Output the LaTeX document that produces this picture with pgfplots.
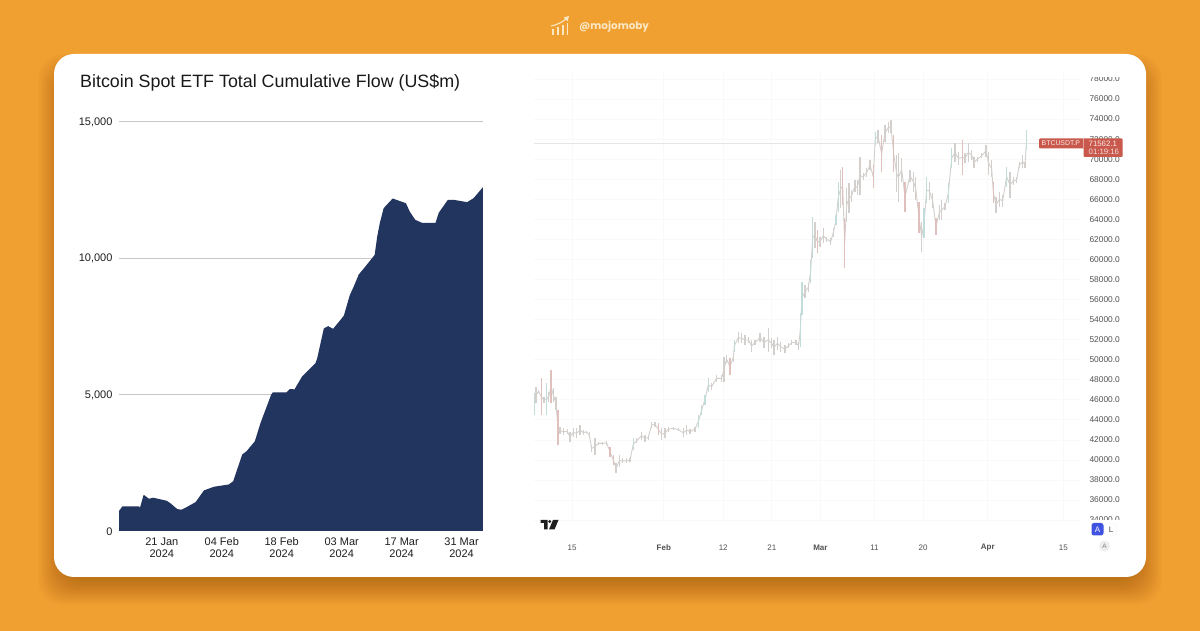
\documentclass[border=0pt]{standalone}
\usepackage{pgfplots}
\usepackage{pgfplotstable}
\usepackage{fontspec}
\pgfplotsset{compat=1.18}
\setmainfont{Liberation Sans}
\newfontfamily\pop{Poppins}
\definecolor{bgor}{HTML}{F0A031}
\definecolor{navy}{HTML}{22355F}
\definecolor{cream}{HTML}{FBE7C4}
\definecolor{tagred}{HTML}{C9594C}
\definecolor{wickg}{HTML}{D3CFCC}
\definecolor{wickr}{HTML}{DFC0BC}
\definecolor{wickt}{HTML}{C2DDD9}
\pgfplotstableread{
x lo hi c
-6.92 44484 46645 2
-6.67 45648 47310 0
-6.18 46645 46978 0
-5.68 44484 48141 1
-5.19 45648 46313 0
-4.70 44484 47643 2
-4.32 45814 46811 0
-3.89 45648 48973 1
-3.46 45814 47144 0
-2.97 44983 46313 0
-2.60 41491 44983 1
-2.23 42589 43254 0
-1.61 42489 43154 0
-0.87 42589 43054 0
-0.38 41824 42821 0
0.24 42323 43154 0
0.86 42156 43154 0
1.48 42489 43486 0
2.09 42489 42988 0
2.71 42655 42921 0
3.20 42156 42821 0
3.63 40826 41491 0
4.25 40494 42156 0
4.87 41491 41824 0
5.67 41491 41824 0
6.41 41491 41890 0
7.03 40328 41325 1
7.65 39496 40494 1
8.14 38665 39663 0
8.76 39330 40494 0
9.37 39663 40161 0
10.11 39663 40161 0
10.73 39829 40161 0
11.35 40993 42156 2
11.96 41657 42156 0
12.89 41990 42821 0
13.51 41824 42489 0
14.12 41990 42489 0
14.74 43154 43819 0
15.36 43320 43819 0
15.97 42489 43653 1
16.59 41990 43154 0
17.21 42156 43154 0
17.83 42821 43320 0
18.75 42988 43320 0
19.68 42921 43154 0
20.60 42256 43154 0
21.22 42489 43486 0
21.84 42589 43054 0
22.76 42821 43320 0
23.38 43154 44484 2
24.00 44484 45481 2
24.61 45481 46479 2
25.23 46811 48141 2
25.85 46978 47643 0
26.77 47809 48474 0
27.70 47809 48474 0
28.13 47809 50302 0
28.62 49637 50469 0
29.24 48474 50136 1
29.86 49804 50635 0
30.06 50801 51965 2
30.80 51632 52796 0
31.41 51632 52630 0
32.03 51466 52464 0
32.65 51632 52298 0
33.26 50801 51965 0
33.88 51466 51965 0
34.81 51799 52630 0
35.55 51134 52298 0
36.35 50801 53129 0
36.97 51134 52131 0
37.40 50469 51965 0
38.02 50967 52298 0
38.63 50801 51799 0
39.43 50635 51466 0
40.05 51134 51632 0
40.67 51466 51965 0
41.47 51466 51965 0
41.96 50967 51799 0
42.27 51300 54625 2
42.58 54459 57784 2
43.14 56121 57451 0
43.75 56786 57618 0
44.19 57618 59945 2
44.56 60111 64268 2
45.00 61109 63769 0
45.43 60610 62938 1
45.92 61276 62273 0
46.54 61608 63104 0
47.16 61774 62273 0
47.90 61441 62106 0
48.39 62273 63104 0
48.88 63437 64434 2
49.32 64767 67759 2
49.75 65099 68923 0
50.12 65431 69255 1
50.49 59114 64101 1
50.86 63769 67094 0
51.29 64600 67593 0
51.78 65764 66928 0
52.40 66761 67925 0
52.83 66429 67925 0
53.33 66429 70253 0
53.94 67925 68590 0
54.56 68258 69089 0
55.18 68923 69920 0
55.79 67094 69421 1
56.16 71417 72746 2
56.66 71583 72913 0
57.34 68756 72414 1
57.95 71749 73411 0
58.57 72580 73744 0
59.06 72580 73910 0
59.56 68756 72414 1
60.11 66761 70419 0
60.42 65764 70585 0
61.05 67759 70087 0
61.67 64767 67759 1
62.59 67759 68923 0
63.21 66762 68757 0
63.64 65931 68258 0
64.26 62606 65764 1
64.75 60777 63770 0
65.18 62107 65100 2
65.68 65598 68258 2
66.17 65931 67760 0
66.79 65100 66596 0
67.40 62440 64102 1
68.02 63936 65432 0
68.45 63936 65931 0
69.07 64933 65598 0
69.69 65598 67593 2
70.30 69090 71085 2
70.92 69755 71583 0
71.54 69422 70752 0
72.28 68425 71916 1
72.77 69588 70586 0
73.39 69755 71583 0
74.01 69921 70918 0
74.44 69090 70253 0
75.05 69755 70253 0
75.86 70087 70586 0
76.66 70253 71417 0
77.15 68425 70752 0
77.71 68258 69921 0
78.02 65598 67760 1
78.51 64601 66263 0
79.13 65266 66762 0
79.74 65266 66430 0
80.48 67261 69256 2
81.10 66097 68757 0
81.72 67427 68258 0
82.34 67593 68258 0
82.83 69090 69755 0
83.45 69090 70420 0
83.88 69090 69755 0
84.19 70918 72913 2
}\btc
\newcommand{\wicks}[2]{\addplot[draw=none,mark=none,forget plot,
  restrict expr to domain={\thisrow{c}}{#1:#1},
  error bars/.cd,y dir=plus,y explicit,error mark=none,
  error bar style={line width=1.3pt,color=#2}]
  table[x=x,y=lo,y error expr=\thisrow{hi}-\thisrow{lo}]{\btc};}
\begin{document}
\begin{tikzpicture}
\useasboundingbox (0,0) rectangle (1200pt,631pt);
\fill[bgor] (0,0) rectangle (1200pt,631pt);
\begin{scope}[x=1pt,y=-1pt,shift={(0pt,631pt)}]
  % soft shadow
  \foreach \i in {0,...,25}{
    \fill[black,opacity=0.0075,rounded corners=24pt]
      ({54-16+\i},{54+\i}) rectangle ({1146+16-\i},{577+28-\i});
  }
  \fill[white,rounded corners=20pt] (54,54) rectangle (1146,577);
  % header icon
  \draw[cream,line width=1.3pt] (553,35)--(553,29) (558,35)--(558,27) (563,35)--(563,25) (567.5,35)--(567.5,23);
  \draw[cream,line width=1.1pt] (551,26) .. controls (557,25) and (563,22) .. (567,18);
  \fill[cream] (569,16)--(563.5,17.5)--(567.5,21.5)--cycle;
  \node[anchor=west,text=cream,font=\pop\bfseries\fontsize{10.4}{13}\selectfont,inner sep=0pt] at (579,26.5) {@mojomoby};
  \node[anchor=west,inner sep=0pt,font=\fontsize{17.85}{21}\selectfont,text=black!90] at (80,82.5) {Bitcoin Spot ETF Total Cumulative Flow (US\$m)};
\end{scope}

% left: cumulative flow
\begin{axis}[at={(119pt,100pt)},anchor=south west,scale only axis,
  width=364pt,height=409pt,xmin=0,xmax=85,ymin=0,ymax=15000,
  axis line style={draw=none},major tick length=0pt,
  ytick={0,5000,10000,15000},
  ymajorgrids,grid style={color=black!22,line width=1pt},
  xtick={10,24,38,52,66,80},
  xticklabels={{21 Jan\\2024},{04 Feb\\2024},{18 Feb\\2024},{03 Mar\\2024},{17 Mar\\2024},{31 Mar\\2024}},
  xticklabel style={align=center,font=\fontsize{11}{12}\selectfont,text=black!88,yshift=-3.5pt},
  yticklabel style={font=\fontsize{11}{12}\selectfont,text=black!88,xshift=-3pt,yshift=-0.5pt},
  /pgf/number format/assume math mode=true,
  /pgf/number format/1000 sep={,},
  scaled y ticks=false]
\addplot[fill=navy,draw=none] table {
x y
0 732
0.78 902
4.67 902
4.90 854
5.76 1329
7.00 1183
8.00 1220
11.12 1110
12.05 1012
13.60 805
14.54 780
15.55 854
17.90 1061
19.83 1488
22.16 1622
25.66 1707
26.68 1829
28.77 2805
29.80 2927
31.73 3293
33.05 3963
35.54 5000
35.93 5085
39.12 5085
39.90 5207
40.99 5195
42.77 5671
45.88 6158
46.27 6324
47.83 7427
48.84 7512
50.00 7414
52.50 7892
53.90 8652
54.80 8958
56.00 9412
57.00 9596
59.70 10123
60.30 10797
60.90 11287
61.80 11838
63.90 12194
67.00 12022
67.90 11716
69.20 11409
70.80 11299
73.90 11299
74.70 11679
76.80 12145
78.20 12145
81.30 12059
82.80 12206
85 12610
} \closedcycle;
\end{axis}

% right: BTCUSDT.P price
\begin{axis}[at={(534pt,109pt)},anchor=south west,scale only axis,
  width=546pt,height=450pt,xmin=-7.04,xmax=94.07,ymin=33811,ymax=78698,
  axis line style={draw=none},major tick length=0pt,
  xmajorgrids,ymajorgrids,grid style={color=black!2.5,line width=0.7pt},
  ytick={34000,36000,...,78000},yticklabel pos=right,
  xtick={0,17,28,37,46,56,65,77,91},
  xticklabels={15,\textbf{Feb},12,21,\textbf{Mar},11,20,\textbf{Apr},15},
  xticklabel style={font=\fontsize{8}{9}\selectfont,text=black!68,yshift=-26pt,anchor=center},
  yticklabel style={font=\fontsize{8.4}{10}\selectfont,text=black!68,anchor=west,xshift=6pt},
  /pgf/number format/assume math mode=true,
  /pgf/number format/fixed,/pgf/number format/fixed zerofill,
  /pgf/number format/precision=1,/pgf/number format/1000 sep={},
  scaled y ticks=false]
\addplot[color=black!10,line width=0.7pt,forget plot] coordinates {(-7.04,71562) (86.5,71562)};
\addplot[color=wickg,line width=0.9pt,forget plot] table[x=x,y expr=(\thisrow{lo}+\thisrow{hi})/2]{\btc};
\wicks{0}{wickg}
\wicks{1}{wickr}
\wicks{2}{wickt}
\end{axis}

\begin{scope}[x=1pt,y=-1pt,shift={(0pt,631pt)}]
  % clipped top and bottom price labels
  \fill[white] (1084,68) rectangle (1124,77.5);
  \fill[white] (1084,520) rectangle (1124,529);
  % price tag
  \fill[tagred,rounded corners=1pt] (1039,138.5) rectangle (1122.5,148.5);
  \fill[tagred,rounded corners=1pt] (1083.5,147) rectangle (1122.5,157);
  \draw[white,opacity=.45,line width=.5pt] (1083.5,138.5)--(1083.5,148.5);
  \node[anchor=west,inner sep=0pt,text=white!88!tagred,font=\fontsize{6.9}{9}\selectfont] at (1041.5,143.5) {BTCUSDT.P};
  \node[anchor=west,inner sep=0pt,text=white!88!tagred,font=\fontsize{7.8}{9}\selectfont] at (1088.5,143.5) {71562.1};
  \node[anchor=west,inner sep=0pt,text=white!80!tagred,font=\fontsize{7.8}{9}\selectfont] at (1088.5,152) {01:19:16};
  % TradingView mark
  \fill[black!88] (540.5,520) rectangle (547.5,523) (544,523) rectangle (547.5,529.5);
  \fill[black!88] (549.7,521.5) circle (1.7);
  \fill[black!88] (553,520) -- (558.5,520) -- (554.5,529.5) -- (549,529.5) -- cycle;
  % scale buttons
  \fill[white,rounded corners=2pt,draw=black!6] (1104.5,524) rectangle (1117,535);
  \fill[rounded corners=2.5pt,fill={rgb,255:red,64;green,83;blue,224}] (1091.5,523) rectangle (1103.5,535.5);
  \node[text=white,font=\fontsize{8}{9}\selectfont,inner sep=0pt] at (1097.5,529.3) {A};
  \node[text=black!70,font=\fontsize{8}{9}\selectfont,inner sep=0pt] at (1111,529.3) {L};
  \fill[black!7] (1104.5,546) circle (5.5);
  \node[text=black!50,font=\fontsize{6.5}{8}\selectfont,inner sep=0pt] at (1104.5,546) {A};
\end{scope}
\end{tikzpicture}
\end{document}
